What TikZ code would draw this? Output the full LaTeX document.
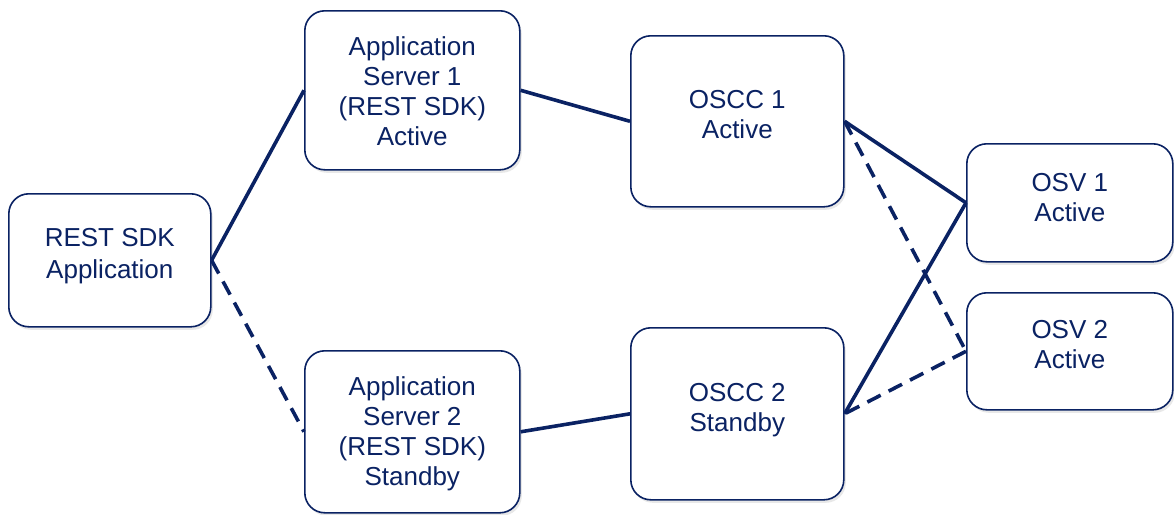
\documentclass[tikz,border=0pt]{standalone}
\usepackage{fontspec}
\setmainfont{Liberation Sans}
\usetikzlibrary{shadows}
\definecolor{navy}{HTML}{0A2263}
\begin{document}
\begin{tikzpicture}[x=1pt,y=-1pt,
  box/.style={draw=navy, line width=1.6pt, rounded corners=20pt, fill=white,
    inner sep=0pt, anchor=north west,
    drop shadow={opacity=0.18, shadow xshift=2pt, shadow yshift=-3pt}},
  txt/.style={text=navy, align=center, inner sep=0pt,
    font=\fontsize{26}{30}\selectfont},
  link/.style={draw=navy, line width=3.6pt},
  dlink/.style={link, dash pattern=on 15pt off 9pt}]
\useasboundingbox (0,0) rectangle (1174,514);
\node[box, minimum width=202pt, minimum height=133pt] (rest) at (8,193) {};
\node[box, minimum width=215pt, minimum height=159pt] (as1) at (304,10) {};
\node[box, minimum width=215pt, minimum height=162pt] (as2) at (304,350) {};
\node[box, minimum width=213pt, minimum height=171pt] (oscc1) at (630,35) {};
\node[box, minimum width=213pt, minimum height=172pt] (oscc2) at (630,327) {};
\node[box, minimum width=206pt, minimum height=118pt] (osv1) at (966,143) {};
\node[box, minimum width=206pt, minimum height=117pt] (osv2) at (966,292) {};
\node[txt, font=\fontsize{26}{32}\selectfont] (restT) at ([yshift=4pt]rest.center) {REST SDK\\Application};
\node[txt] (as1T) at ([yshift=-1pt]as1.center) {Application\\Server 1\\(REST SDK)\\Active};
\node[txt] (as2T) at ([yshift=-2pt]as2.center) {Application\\Server 2\\(REST SDK)\\Standby};
\node[txt] (oscc1T) at ([yshift=7pt]oscc1.center) {OSCC 1\\Active};
\node[txt] (oscc2T) at ([yshift=4pt]oscc2.center) {OSCC 2\\Standby};
\node[txt] (osv1T) at ([yshift=5.5pt]osv1.center) {OSV 1\\Active};
\node[txt] (osv2T) at ([yshift=7pt]osv2.center) {OSV 2\\Active};
\draw[link] (rest.east) -- (as1.west);
\draw[dlink] (rest.east) -- (as2.west);
\draw[link] (as1.east) -- (oscc1.west);
\draw[link] (as2.east) -- (oscc2.west);
\draw[link] (oscc1.east) -- (osv1.west);
\draw[dlink] (oscc1.east) -- (osv2.west);
\draw[link] (osv1.west) -- (oscc2.east);
\draw[dlink] (osv2.west) -- (oscc2.east);
\end{tikzpicture}
\end{document}
